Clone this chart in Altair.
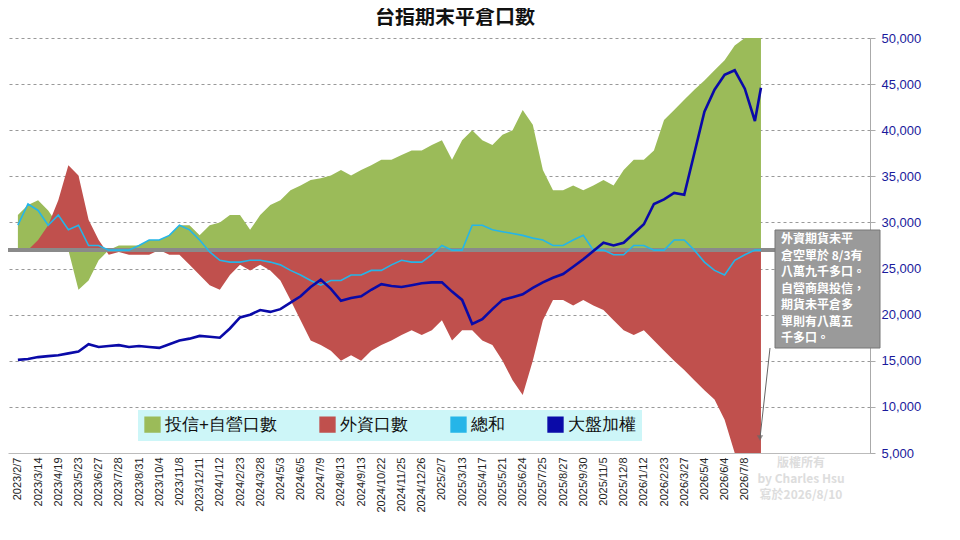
import altair as alt
import pandas as pd

tick_labels = ["2023/2/7", "2023/3/14", "2023/4/19", "2023/5/23", "2023/6/27", "2023/7/28",
               "2023/8/31", "2023/10/4", "2023/11/8", "2023/12/11", "2024/1/12", "2024/2/23",
               "2024/3/28", "2024/5/3", "2024/6/5", "2024/7/9", "2024/8/13", "2024/9/13",
               "2024/10/22", "2024/11/25", "2024/12/26", "2025/2/7", "2025/3/13", "2025/4/17",
               "2025/5/21", "2025/6/24", "2025/7/25", "2025/8/27", "2025/9/30", "2025/11/5",
               "2025/12/8", "2026/1/12", "2026/2/23", "2026/3/27", "2026/5/4", "2026/6/4", "2026/7/8"]

# half-step positions (0 = 2023/2/7, 1 step = one tick label); last point = 2026/8/10
steps = [i / 2 for i in range(74)] + [36.8]
baseline = 27000

green = [30800, 31900, 32400, 31300, 29700, 27000, 22700, 23700, 25900, 27000,
         27500, 27500, 27500, 28100, 28100, 28600, 29700, 29700, 28600, 29700,
         30000, 30800, 30800, 29200, 30800, 31900, 32400, 33500, 34000, 34600,
         34800, 35100, 35700, 35100, 35700, 36200, 36800, 36800, 37300, 37800,
         37800, 38400, 38900, 36800, 38900, 40000, 38900, 38400, 39500, 40000,
         42200, 40600, 35700, 33500, 33500, 34000, 33500, 34000, 34600, 34000,
         35700, 36800, 36800, 37800, 41100, 42200, 43300, 44400, 45400, 46500,
         47600, 49200, 50000, 50000, 50000]
foreign = [27000, 27000, 28100, 29700, 32400, 36200, 35100, 30300, 28100, 26500,
           26800, 26500, 26500, 26500, 27000, 26500, 26500, 25400, 24300, 23200,
           22700, 24300, 25400, 24800, 25400, 24800, 23700, 21600, 19400, 17200,
           16700, 16100, 15000, 15600, 15000, 16100, 16700, 17200, 17800, 18300,
           17800, 18300, 19400, 17200, 18300, 18300, 17200, 16700, 15000, 12900,
           11300, 15000, 19400, 21600, 21600, 21000, 21600, 21000, 20500, 19400,
           18300, 17800, 18300, 17200, 16100, 15000, 14000, 12900, 11800, 10800,
           8600, 5000, 3000, 2000, 2000]
total = [29700, 32000, 31300, 29700, 30800, 29200, 29700, 27500, 27500, 27000,
         27000, 27000, 27500, 28100, 28100, 28600, 29700, 29200, 28100, 26800,
         25900, 25700, 25700, 25900, 25900, 25700, 25400, 24800, 24300, 23700,
         23200, 23700, 23700, 24300, 24300, 24800, 24800, 25400, 25900, 25700,
         25700, 26500, 27500, 27000, 27000, 29700, 29700, 29200, 29000, 28800,
         28600, 28300, 28100, 27500, 27500, 28100, 28600, 27000, 27000, 26500,
         26500, 27500, 27500, 27000, 27000, 28100, 28100, 27000, 25700, 24800,
         24300, 25900, 26500, 27000, 27000]
index = [15100, 15200, 15400, 15500, 15600, 15800, 16000, 16800, 16500, 16600,
         16700, 16500, 16600, 16500, 16400, 16800, 17200, 17400, 17700, 17600,
         17500, 18500, 19700, 20000, 20500, 20300, 20600, 21300, 22000, 23000,
         23800, 22800, 21500, 21800, 22000, 22700, 23300, 23100, 23000, 23200,
         23400, 23500, 23500, 22500, 21600, 19000, 19500, 20600, 21600, 21900,
         22200, 22900, 23500, 24000, 24400, 25200, 26000, 26900, 27800, 27500,
         27800, 28800, 29800, 32000, 32500, 33200, 33000, 37500, 42000, 44400,
         46000, 46500, 44500, 41000, 44600]

df = pd.DataFrame({"i": steps, "green": green, "foreign": foreign,
                   "total": total, "index": index, "base": baseline})

label_expr = "[" + ",".join(f"'{t}'" for t in tick_labels) + "][datum.value]"
x = alt.X("i:Q", scale=alt.Scale(domain=[-0.49, 42.2], nice=False, zero=False),
          axis=alt.Axis(values=list(range(len(tick_labels))), labelExpr=label_expr,
                        labelAngle=-90, labelAlign="right", labelBaseline="middle",
                        labelFontSize=11, labelColor="#222", title=None, grid=False,
                        ticks=False, domainColor="#bbb", labelPadding=4))
yscale = alt.Scale(domain=[5000, 50000], nice=False, zero=False)
y_axis = alt.Axis(orient="right", values=list(range(5000, 50001, 5000)),
                  labelExpr="format(datum.value, ',')",
                  labelColor="#1a1a9c", labelFontSize=13, title=None, grid=True,
                  gridDash=[3, 3], gridColor="#999", domainColor="#aaa", tickColor="#aaa",
                  labelPadding=6)

cscale = alt.Scale(domain=["投信+自營口數", "外資口數", "總和", "大盤加權"],
                   range=["#9bbb59", "#c0504d", "#25b5e8", "#0a0aa8"])

base = alt.Chart(df)
g = base.transform_calculate(s="'投信+自營口數'").mark_area(clip=True).encode(
    x=x, y=alt.Y("green:Q", scale=yscale, axis=y_axis), y2="base:Q",
    color=alt.Color("s:N", scale=cscale, legend=alt.Legend(
        orient="none", legendX=130, legendY=372, direction="horizontal", title=None,
        fillColor="#cdf6f8", padding=6, labelFontSize=17, symbolSize=220,
        symbolType="square", columnPadding=40, labelColor="#111")))
r = base.transform_calculate(s="'外資口數'").mark_area(clip=True).encode(
    x=x, y="foreign:Q", y2="base:Q", color=alt.Color("s:N", scale=cscale))
t = base.transform_calculate(s="'總和'").mark_line(strokeWidth=1.6, clip=True).encode(
    x=x, y="total:Q", color=alt.Color("s:N", scale=cscale))
d = base.transform_calculate(s="'大盤加權'").mark_line(strokeWidth=2.6, clip=True).encode(
    x=x, y="index:Q", color=alt.Color("s:N", scale=cscale))

one = alt.Chart(pd.DataFrame({"k": [0]}))
bl = one.mark_rule(color="#8a8a8a", strokeWidth=4).encode(
    y=alt.datum(baseline), x=alt.value(0), x2=alt.value(775))

title = one.mark_text(align="center", baseline="middle", fontSize=20, font="Noto Sans CJK TC",
                      fontWeight="bold", color="#111").encode(
    x=alt.value(447), y=alt.value(-20), text=alt.value("台指期末平倉口數"))

note_lines = ["外資期貨未平", "倉空單於 8/3有", "八萬九千多口。", "自營商與投信，",
              "期貨未平倉多", "單則有八萬五", "千多口。"]
box = one.mark_rect(color="#9a9a9a", stroke="#777").encode(
    x=alt.value(767), x2=alt.value(872), y=alt.value(192), y2=alt.value(310))
note = one.mark_text(align="left", baseline="top", color="white", fontSize=12,
                     lineHeight=16.5, font="Noto Sans CJK TC", fontWeight="bold").encode(
    x=alt.value(773), y=alt.value(196), text=alt.value(note_lines))
arrow = one.mark_rule(color="#666", strokeWidth=1).encode(
    x=alt.value(762), y=alt.value(310), x2=alt.value(752), y2=alt.value(400))
head = one.mark_point(shape="triangle-down", filled=True, color="#666", size=40).encode(
    x=alt.value(752), y=alt.value(400))
wm = one.mark_text(align="center", baseline="top", color="#dddddd", fontSize=12,
                   lineHeight=16, font="Noto Sans CJK TC", fontWeight="bold").encode(
    x=alt.value(793), y=alt.value(420), text=alt.value(["版權所有", "by Charles Hsu", "寫於2026/8/10"]))

chart = alt.layer(g, r, bl, t, d, box, note, arrow, head, wm, title).properties(
    width=862, height=415,
    autosize="none",
    padding={"left": 0, "top": 30, "right": 82, "bottom": 87},
).configure_view(stroke=None)

chart.save("out.html", embed_options={"renderer": "svg", "actions": False})
